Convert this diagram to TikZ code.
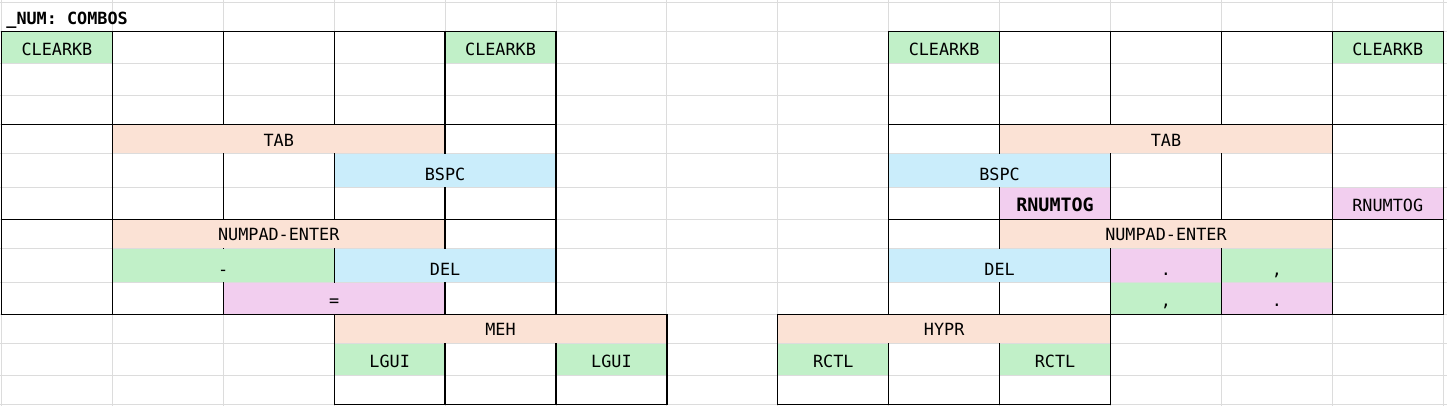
\documentclass[tikz,border=0pt]{standalone}
\usepackage{fontspec}
\newfontfamily\keyfont{DejaVu Sans Mono}
\usetikzlibrary{calc}
\definecolor{kgreen}{RGB}{193,240,200}
\definecolor{kpeach}{RGB}{251,226,213}
\definecolor{kblue}{RGB}{202,237,251}
\definecolor{kpink}{RGB}{242,206,239}
\definecolor{gridgray}{RGB}{220,220,220}
\newcommand\bigkey{\fontsize{9.2}{11}\selectfont\bfseries}
\begin{document}
\begin{tikzpicture}[x=.5pt, y=-.5pt, font=\keyfont\fontsize{8.4}{10}\selectfont,
	gridline/.style={draw=gridgray, line width=.5pt},
	cellline/.style={draw=black, line width=.65pt, line cap=rect},
	key/.style={anchor=base, inner sep=0pt, text=black}]
	\coordinate (nw) at (0,0); \coordinate (se) at (1447,406);
	\useasboundingbox (nw) rectangle (se);
	% column and row boundaries, in px
	\foreach \i in {0,...,13} \coordinate (c\i) at ({1.5+110.9*\i},0);
	\foreach \y [count=\j from 0] in {2.3,31.7,63.3,95.7,124.3,153.7,187.7,219.3,248.3,282.7,314.3,343.3,375.3,404.3}
		\coordinate (r\j) at (0,\y);
	% sheet gridlines
	\foreach \i in {0,...,13} \draw[gridline] (c\i |- nw) -- (c\i |- se);
	\foreach \j in {0,...,13} \draw[gridline] (nw |- r\j) -- (se |- r\j);
	% key borders
	\foreach \a/\b in {0/5,8/13}{
		\foreach \i in {\a,...,\b} \draw[cellline] (c\i |- r1) -- (c\i |- r10);
		\foreach \j in {1,4,7,10} \draw[cellline] (c\a |- r\j) -- (c\b |- r\j);
	}
	\foreach \a/\b in {3/6,7/10}{
		\foreach \i in {\a,...,\b} \draw[cellline] (c\i |- r10) -- (c\i |- r13);
		\foreach \j in {10,13} \draw[cellline] (c\a |- r\j) -- (c\b |- r\j);
	}
	\node[key, anchor=base west, font=\keyfont\fontsize{8.4}{10}\selectfont\bfseries] (title) at ($(c0 |- r1)+(4.5,-7.3)$) {\_NUM: COMBOS};
	% combos: first col / end col / row / colour / text
	\foreach \a/\b/\r/\col/\t [count=\n, evaluate=\r as \rn using int(\r+1)] in {
		0/1/1/kgreen/CLEARKB, 4/5/1/kgreen/CLEARKB, 1/4/4/kpeach/TAB, 3/5/5/kblue/BSPC,
		1/4/7/kpeach/NUMPAD-ENTER, 1/3/8/kgreen/-, 3/5/8/kblue/DEL, 2/4/9/kpink/=,
		3/6/10/kpeach/MEH, 3/4/11/kgreen/LGUI, 5/6/11/kgreen/LGUI,
		8/9/1/kgreen/CLEARKB, 12/13/1/kgreen/CLEARKB, 9/12/4/kpeach/TAB, 8/10/5/kblue/BSPC,
		9/10/6/kpink/{\bigkey RNUMTOG}, 12/13/6/kpink/RNUMTOG, 9/12/7/kpeach/NUMPAD-ENTER,
		8/10/8/kblue/DEL, 10/11/8/kpink/., 11/12/8/kgreen/{,}, 10/11/9/kgreen/{,}, 11/12/9/kpink/.,
		7/10/10/kpeach/HYPR, 7/8/11/kgreen/RCTL, 9/10/11/kgreen/RCTL}{
		\fill[\col] ($(c\a |- r\r)+(.65,.65)$) rectangle ($(c\b |- r\rn)+(-.65,-.65)$);
		\node[key] (k\n) at ($(c\a |- r\rn)!.5!(c\b |- r\rn)+(0,-7.3)$) {\t};
	}
\end{tikzpicture}
\end{document}
